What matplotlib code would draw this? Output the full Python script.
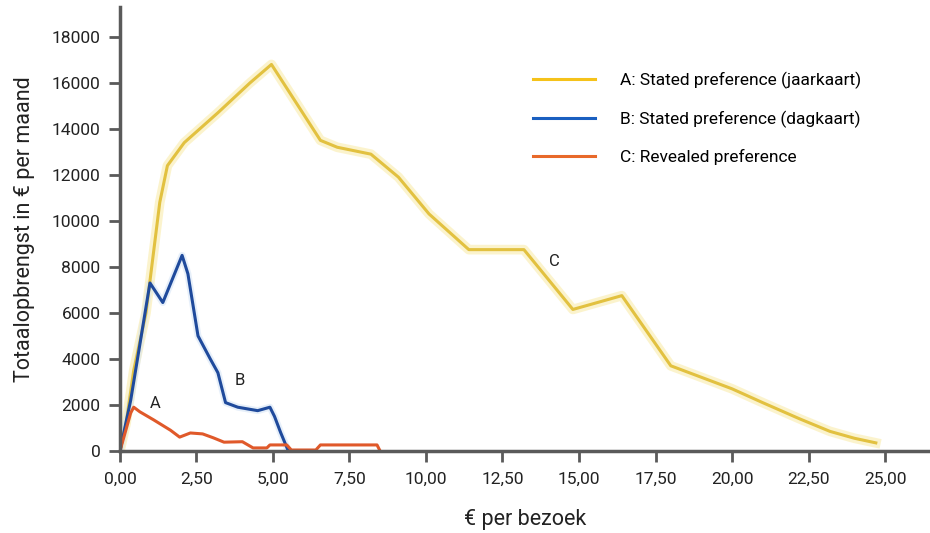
import numpy as np
import matplotlib.pyplot as plt
from matplotlib.ticker import FuncFormatter

plt.rcParams['font.family'] = ['Roboto', 'DejaVu Sans']

# lijn geel (label C in de grafiek)
x_geel = [0, 0.2, 0.45, 0.85, 1.3, 1.55, 2.1, 3.2, 4.25, 4.95, 6.55, 7.1, 8.2, 9.1, 10.1,
          11.4, 13.2, 14.8, 16.4, 18.0, 19.0, 20.0, 21.0, 22.2, 23.2, 24.0, 24.7]
y_geel = [0, 1200, 3500, 6000, 10800, 12400, 13400, 14700, 16000, 16800, 13500, 13200, 12900,
          11900, 10300, 8750, 8750, 6150, 6750, 3700, 3200, 2700, 2100, 1400, 850, 550, 350]

# lijn blauw (label B)
x_blauw = [0, 0.35, 0.98, 1.4, 2.03, 2.22, 2.55, 2.95, 3.2, 3.45, 3.85, 4.5, 4.9, 5.05, 5.25, 5.5]
y_blauw = [0, 2200, 7300, 6450, 8500, 7700, 5000, 4000, 3400, 2100, 1900, 1750, 1900, 1500, 800, 0]

# lijn oranje (label A)
x_oranje = [0, 0.35, 0.45, 0.65, 1.1, 1.65, 1.95, 2.3, 2.7, 3.05, 3.4, 4.0, 4.35, 4.8, 4.9,
            5.45, 5.6, 6.4, 6.55, 8.4, 8.5]
y_oranje = [0, 1650, 1900, 1700, 1350, 900, 600, 780, 740, 570, 380, 400, 130, 130, 260,
            260, 40, 40, 260, 260, 0]

labels = ["A: Stated preference (jaarkaart)",
          "B: Stated preference (dagkaart)",
          "C: Revealed preference"]

fig = plt.figure(figsize=(9.3, 5.33), dpi=100)
ax = fig.add_axes([0.129, 0.154, 0.871, 0.833])

# gloed rond de gele lijn
ax.plot(x_geel, y_geel, color='#f8e690', lw=7, alpha=0.45, solid_joinstyle='round')
ax.plot(x_blauw, y_blauw, color='#cfe0f5', lw=5, alpha=0.5)
ax.plot(x_geel, y_geel, color='#e2c140', lw=2.2)
ax.plot(x_blauw, y_blauw, color='#1f4a9c', lw=2.2)
ax.plot(x_oranje, y_oranje, color='#e0592a', lw=2.2)

ax.text(1.14, 2050, "A", fontsize=12, color='#222222', ha='center', va='center')
ax.text(3.92, 3050, "B", fontsize=12, color='#222222', ha='center', va='center')
ax.text(14.2, 8250, "C", fontsize=12, color='#222222', ha='center', va='center')

ax.set_xlim(0, 26.47)
ax.set_ylim(0, 19300)
ax.set_xticks(np.arange(0, 25.01, 2.5))
ax.set_yticks(np.arange(0, 18001, 2000))
ax.xaxis.set_major_formatter(FuncFormatter(lambda v, p: f"{v:.2f}".replace('.', ',')))

for s in ['top', 'right']:
    ax.spines[s].set_visible(False)
for s in ['left', 'bottom']:
    ax.spines[s].set_color('#5a5a5a')
    ax.spines[s].set_linewidth(2.5)
ax.tick_params(axis='both', colors='#5a5a5a', width=2, length=8, labelsize=12.5,
               labelcolor='#222222')
ax.tick_params(axis='x', pad=7)
ax.tick_params(axis='y', pad=6)

ax.set_xlabel("€ per bezoek", fontsize=15.5, color='#222222', labelpad=16)
ax.set_ylabel("Totaalopbrengst in € per maand", fontsize=15.5, color='#222222', labelpad=12)

leg_handles = [plt.Line2D([], [], color='#f5c21a', lw=2.2),
               plt.Line2D([], [], color='#1a5fc0', lw=2.2),
               plt.Line2D([], [], color='#e8692a', lw=2.2)]
ax.legend(leg_handles, labels, loc='upper left', bbox_to_anchor=(0.49, 0.89), frameon=False,
          fontsize=12.5, handlelength=3.6, handletextpad=1.45, labelspacing=1.25)

fig.savefig("out.png", dpi=100, facecolor='white')
